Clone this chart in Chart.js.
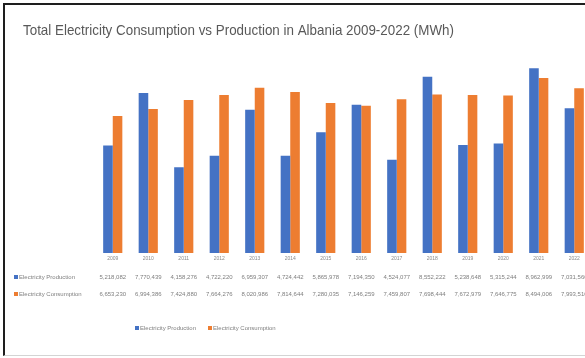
<!DOCTYPE html>
<html>
<head>
<meta charset="utf-8">
<script src="https://cdn.jsdelivr.net/npm/chart.js@4.4.1/dist/chart.umd.min.js"></script>
<style>
  html, body { margin: 0; padding: 0; background: #fff; overflow: hidden; }
  body { width: 585px; height: 358px; position: relative; }
  .frame {
    position: absolute; left: 3px; top: 3px;
    width: 600px; height: 350px;
    border-left: 2px solid #1e1e1e;
    border-top: 2px solid #1e1e1e;
    border-bottom: 1px solid #d4d4d4;
  }
  canvas { display: block; }
</style>
</head>
<body>
<div class="frame">
  <canvas id="chart" width="600" height="350"></canvas>
</div>
<script>
const chartTitle = 'Total Electricity Consumption vs Production in Albania 2009-2022 (MWh)';
const years = ['2009','2010','2011','2012','2013','2014','2015','2016','2017','2018','2019','2020','2021','2022'];
const production = [5218082, 7770439, 4158276, 4722220, 6959307, 4724442, 5865978, 7194350, 4524077, 8552222, 5238648, 5315244, 8962999, 7031560];
const consumption = [6653230, 6994386, 7424880, 7664276, 8020986, 7814644, 7280035, 7146259, 7459807, 7698444, 7672979, 7646775, 8494006, 7993510];
const seriesNames = ['Electricity Production', 'Electricity Consumption'];
const colors = ['#4472C4', '#ED7D31'];

const font = '"Liberation Sans", Arial, sans-serif';

// title, data table and legend drawn on the canvas
const tablePlugin = {
  id: 'dataTable',
  afterDraw(chart) {
    const ctx = chart.ctx;
    const x = chart.scales.x;
    ctx.save();

    // title squeezed to the narrow width of the original
    ctx.fillStyle = '#595959';
    ctx.font = '15px ' + font;
    ctx.textAlign = 'left';
    ctx.textBaseline = 'middle';
    ctx.fillText(chartTitle, 18, 26, 431);

    // year labels
    ctx.font = '5px ' + font;
    ctx.fillStyle = '#8a8a8a';
    ctx.textAlign = 'center';
    years.forEach((y, i) => ctx.fillText(y, x.getPixelForValue(i), 254));

    // rows
    const rows = [production, consumption];
    const rowY = [272, 289];
    ctx.font = '6px ' + font;
    rows.forEach((vals, r) => {
      ctx.fillStyle = colors[r];
      ctx.fillRect(9, rowY[r] - 2, 4, 4);
      ctx.fillStyle = '#7f7f7f';
      ctx.textAlign = 'left';
      ctx.fillText(seriesNames[r], 14, rowY[r], 68);
      ctx.textAlign = 'center';
      vals.forEach((v, i) => ctx.fillText(v.toLocaleString('en-US'), x.getPixelForValue(i), rowY[r], 31));
    });

    // legend
    const legendX = [130, 203];
    seriesNames.forEach((name, i) => {
      ctx.fillStyle = colors[i];
      ctx.fillRect(legendX[i], 321, 4, 4);
      ctx.fillStyle = '#7f7f7f';
      ctx.textAlign = 'left';
      ctx.fillText(name, legendX[i] + 5, 323, 64);
    });

    ctx.restore();
  }
};

new Chart(document.getElementById('chart'), {
  type: 'bar',
  data: {
    labels: years,
    datasets: [
      { label: seriesNames[0], data: production, backgroundColor: colors[0] },
      { label: seriesNames[1], data: consumption, backgroundColor: colors[1] }
    ]
  },
  options: {
    responsive: false,
    animation: false,
    layout: { padding: { left: 90, right: 13, top: 42, bottom: 102 } },
    datasets: { bar: { categoryPercentage: 0.54, barPercentage: 1.0 } },
    plugins: {
      legend: { display: false },
      title: { display: false },
      tooltip: { enabled: false }
    },
    scales: {
      x: { display: false },
      y: { display: false, min: 0, max: 10000000 }
    }
  },
  plugins: [tablePlugin]
});
</script>
</body>
</html>
